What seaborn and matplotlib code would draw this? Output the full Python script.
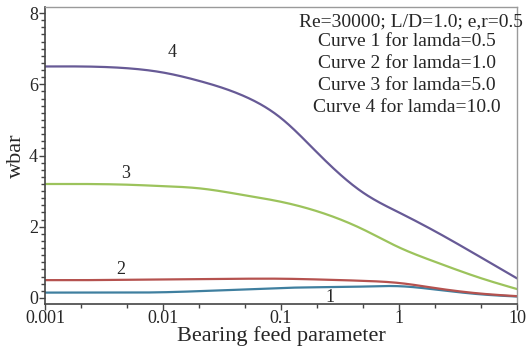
import numpy as np
import pandas as pd
import matplotlib
matplotlib.use("Agg")
import matplotlib.pyplot as plt
import seaborn as sns
from matplotlib.ticker import LogLocator, MultipleLocator, FuncFormatter

# ---- data ----
feed = [0.001, 0.002, 0.005, 0.01, 0.02, 0.05, 0.1, 0.2, 0.5, 1, 2, 5, 10]
curve1 = [0.15, 0.15, 0.15, 0.16, 0.19, 0.24, 0.28, 0.30, 0.32, 0.33, 0.24, 0.10, 0.04]
curve2 = [0.50, 0.50, 0.51, 0.52, 0.53, 0.54, 0.54, 0.52, 0.48, 0.42, 0.28, 0.12, 0.05]
curve3 = [3.20, 3.20, 3.18, 3.14, 3.08, 2.88, 2.70, 2.44, 1.92, 1.42, 1.02, 0.55, 0.25]
curve4 = [6.50, 6.50, 6.45, 6.33, 6.10, 5.65, 5.05, 4.10, 2.95, 2.40, 1.88, 1.13, 0.55]
curve_names = ["1", "2", "3", "4"]
curve_colors = ["#3f7f9f", "#b5524f", "#9cc35c", "#675a96"]
x_ticks = [0.001, 0.01, 0.1, 1, 10]
x_tick_labels = ["0.001", "0.01", "0.1", "1", "10"]
y_ticks = [0, 2, 4, 6, 8]
note_lines = ["Re=30000; L/D=1.0; e,r=0.5",
              "Curve 1 for lamda=0.5",
              "Curve 2 for lamda=1.0",
              "Curve 3 for lamda=5.0",
              "Curve 4 for lamda=10.0"]

# ---- natural cubic spline through the read points in log-x space ----
def smooth(xs, ys, n=400):
    x = np.log10(np.asarray(xs, float))
    y = np.asarray(ys, float)
    N = len(x)
    h = np.diff(x)
    A = np.zeros((N, N))
    b = np.zeros(N)
    A[0, 0] = A[-1, -1] = 1.0
    for i in range(1, N - 1):
        A[i, i - 1] = h[i - 1]
        A[i, i] = 2 * (h[i - 1] + h[i])
        A[i, i + 1] = h[i]
        b[i] = 6 * ((y[i + 1] - y[i]) / h[i] - (y[i] - y[i - 1]) / h[i - 1])
    M = np.linalg.solve(A, b)
    gx = np.linspace(x[0], x[-1], n)
    out = np.empty_like(gx)
    for j, g in enumerate(gx):
        k = min(np.searchsorted(x, g, side="right") - 1, N - 2)
        t1 = x[k + 1] - g
        t0 = g - x[k]
        hk = h[k]
        out[j] = (M[k] * t1**3 / (6 * hk) + M[k + 1] * t0**3 / (6 * hk)
                  + (y[k] / hk - M[k] * hk / 6) * t1
                  + (y[k + 1] / hk - M[k + 1] * hk / 6) * t0)
    return 10**gx, out

frames = []
for name, vals in zip(curve_names, [curve1, curve2, curve3, curve4]):
    sx, sy = smooth(feed, vals)
    frames.append(pd.DataFrame({"feed": sx, "wbar": sy, "curve": name}))
df = pd.concat(frames, ignore_index=True)

sns.set_style("ticks")
plt.rcParams["font.family"] = ["Liberation Serif", "DejaVu Serif"]

fig = plt.figure(figsize=(5.32, 3.53), dpi=100)
ax = fig.add_axes([45/532, 1-304/353, (517-45)/532, (304-7)/353])

sns.lineplot(data=df, x="feed", y="wbar", hue="curve", palette=curve_colors,
             hue_order=curve_names, linewidth=1.6, legend=False, ax=ax, sort=False)

ax.set_xscale("log")
ax.set_xlim(0.001, 10)
ax.set_ylim(-0.17, 8.17)
ax.set_xticks(x_ticks)
ax.set_xticklabels(x_tick_labels)
ax.xaxis.set_minor_locator(LogLocator(base=10, subs=[2, 5], numticks=20))
ax.xaxis.set_minor_formatter(FuncFormatter(lambda v, p: ""))
ax.set_yticks(y_ticks)
ax.yaxis.set_minor_locator(MultipleLocator(0.2))

ax.tick_params(axis="both", which="major", labelsize=13, length=4, width=1, color="#444444", pad=1)
ax.tick_params(axis="both", which="minor", length=3, width=1, color="#444444")
ax.tick_params(axis="x", which="major", pad=0)

for s in ["top", "right"]:
    ax.spines[s].set_color("#9a9a9a")
    ax.spines[s].set_linewidth(1.0)
for s in ["left", "bottom"]:
    ax.spines[s].set_color("#444444")
    ax.spines[s].set_linewidth(1.2)

ax.set_xlabel("Bearing feed parameter", fontsize=16, labelpad=0)
ax.set_ylabel("wbar", fontsize=16, labelpad=2)

# curve labels
ax.text(0.012, 6.9, "4", fontsize=13, ha="center", va="center")
ax.text(0.0048, 3.5, "3", fontsize=13, ha="center", va="center")
ax.text(0.0044, 0.8, "2", fontsize=13, ha="center", va="center")
ax.text(0.26, 0.0, "1", fontsize=13, ha="center", va="center")

# annotation lines
xs_px = [411, 407, 407, 407, 407]
ys_px = [22, 42, 63, 85, 107]
for line, px, py in zip(note_lines, xs_px, ys_px):
    fig.text(px/532, 1 - py/353, line, fontsize=14, ha="center", va="center")

fig.savefig("out.png", dpi=100)
